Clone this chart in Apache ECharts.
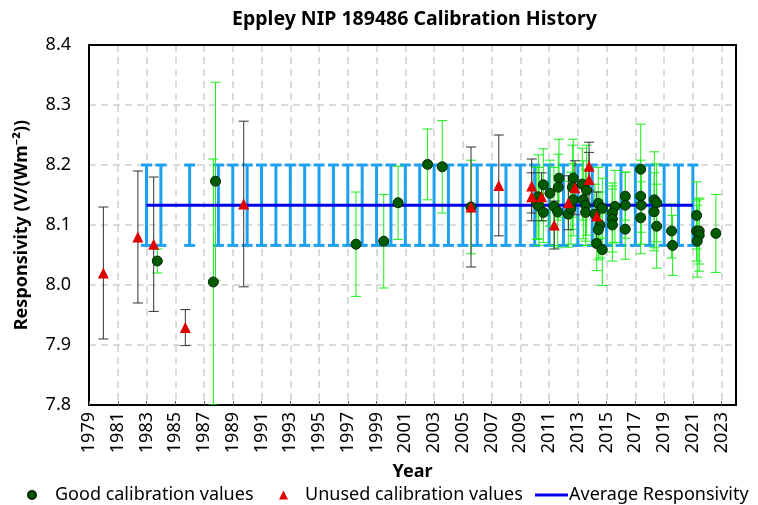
<!DOCTYPE html>
<html>
<head>
<meta charset="utf-8">
<script src="https://cdn.jsdelivr.net/npm/echarts@6/dist/echarts.min.js"></script>
<style>
  html, body { margin: 0; padding: 0; background: #fff; }
  #main { width: 758px; height: 505px; }
</style>
</head>
<body>
<div id="main"></div>
<script>
// 良好的校准值 [年, 响应度, 误差]
var goodYears = [1983.75, 1987.65, 1987.8, 1997.57, 1999.5, 2000.5, 2002.55, 2003.57, 2005.57,
  2010.6, 2010.25, 2010.14, 2010.3, 2010.6, 2011.06, 2011.34, 2011.6, 2011.69, 2011.64,
  2012.34, 2012.52, 2012.68, 2012.62, 2012.68, 2013.31, 2013.61, 2013.38, 2013.54, 2013.54,
  2014.42, 2014.7, 2014.19, 2014.54, 2014.42, 2014.31, 2014.7, 2015.58, 2015.4, 2015.4, 2015.4,
  2016.3, 2016.3, 2016.3, 2017.37, 2017.37, 2017.41, 2017.37, 2018.32, 2018.48, 2018.3, 2018.48,
  2019.52, 2019.59, 2021.26, 2021.26, 2021.44, 2021.44, 2021.3, 2022.6];
var goodValues = [8.040, 8.005, 8.173, 8.068, 8.073, 8.137, 8.201, 8.197, 8.130,
  8.167, 8.147, 8.136, 8.131, 8.121, 8.153, 8.131, 8.122, 8.178, 8.163,
  8.118, 8.128, 8.178, 8.163, 8.142, 8.168, 8.158, 8.142, 8.133, 8.121,
  8.136, 8.128, 8.118, 8.100, 8.092, 8.069, 8.059, 8.131, 8.120, 8.110, 8.100,
  8.148, 8.133, 8.093, 8.193, 8.148, 8.133, 8.112, 8.142, 8.137, 8.122, 8.098,
  8.090, 8.066, 8.116, 8.090, 8.090, 8.083, 8.073, 8.086];
var goodErrors = [0.020, 0.205, 0.165, 0.087, 0.078, 0.061, 0.059, 0.077, 0.078,
  0.060, 0.070, 0.060, 0.065, 0.050, 0.055, 0.065, 0.060, 0.065, 0.055,
  0.055, 0.060, 0.065, 0.070, 0.060, 0.060, 0.075, 0.065, 0.060, 0.055,
  0.060, 0.050, 0.050, 0.055, 0.050, 0.045, 0.060, 0.060, 0.050, 0.055, 0.060,
  0.040, 0.055, 0.050, 0.075, 0.060, 0.065, 0.060, 0.080, 0.065, 0.065, 0.070,
  0.045, 0.050, 0.056, 0.050, 0.055, 0.060, 0.060, 0.065];

// 未使用的校准值
var unusedYears = [1980.0, 1982.4, 1983.5, 1985.7, 1989.76, 2005.57, 2007.5,
  2009.79, 2009.79, 2010.48, 2011.36, 2012.34, 2012.8, 2013.78, 2013.78, 2014.31];
var unusedValues = [8.020, 8.080, 8.068, 7.929, 8.135, 8.130, 8.166,
  8.165, 8.147, 8.147, 8.100, 8.137, 8.162, 8.198, 8.176, 8.115];
var unusedErrors = [0.110, 0.110, 0.112, 0.030, 0.138, 0.100, 0.084,
  0.045, 0.040, 0.040, 0.040, 0.045, 0.045, 0.040, 0.045, 0.040];

// 平均响应度
var avgYears = [1983, 1984, 1986, 1988, 1989, 1990, 1991, 1992, 1993, 1994, 1995, 1996,
  1997, 1998, 1999, 2000, 2001, 2002, 2003, 2004, 2005, 2006, 2007, 2008, 2009, 2010,
  2011, 2012, 2013, 2014, 2015, 2016, 2017, 2018, 2019, 2020, 2021];
var avgValue = 8.133;
var avgError = 0.067;

var FONT = 'Noto Sans';

function zip3(xs, ys, es) {
  var out = [];
  for (var i = 0; i < xs.length; i++) {
    out.push([xs[i], ys[i], es[i]]);
  }
  return out;
}

var goodData = zip3(goodYears, goodValues, goodErrors);
var unusedData = zip3(unusedYears, unusedValues, unusedErrors);
var avgData = [];
for (var i = 0; i < avgYears.length; i++) {
  avgData.push([avgYears[i], avgValue, avgError]);
}

//误差棒
function errorBar(color, width, capHalf) {
  return function (params, api) {
    var x = api.value(0), v = api.value(1), e = api.value(2);
    var hi = api.coord([x, v + e]);
    var lo = api.coord([x, v - e]);
    var style = { stroke: color, lineWidth: width };
    return {
      type: 'group',
      children: [
        { type: 'line', shape: { x1: hi[0], y1: hi[1], x2: lo[0], y2: lo[1] }, style: style },
        { type: 'line', shape: { x1: hi[0] - capHalf, y1: hi[1], x2: hi[0] + capHalf, y2: hi[1] }, style: style },
        { type: 'line', shape: { x1: lo[0] - capHalf, y1: lo[1], x2: lo[0] + capHalf, y2: lo[1] }, style: style },
      ],
    };
  };
}

var myChart = echarts.init(document.getElementById('main'));

var legendText = { fontFamily: FONT, fontSize: 18, color: '#000' };
var gridLine = { show: true, lineStyle: { color: '#d0d0d0', type: [7, 5], width: 1.5 } };

var option = {
  animation: false,
  textStyle: { fontFamily: FONT },
  title: {
    text: 'Eppley NIP 189486 Calibration History',
    left: 227,
    top: 4,
    textStyle: { fontFamily: FONT, fontSize: 19.5, fontWeight: 'bold', color: '#000' },
  },
  legend: [
    {
      data: ['Good calibration values'],
      left: 27,
      top: 486,
      padding: 0,
      itemWidth: 8,
      itemHeight: 8,
      textStyle: Object.assign({ padding: [0, 0, 0, 14] }, legendText),
    },
    {
      data: ['Unused calibration values'],
      left: 279,
      top: 486,
      padding: 0,
      itemWidth: 9,
      itemHeight: 9,
      textStyle: Object.assign({ padding: [0, 0, 0, 12] }, legendText),
    },
    {
      data: ['Average Responsivity'],
      left: 535,
      top: 486,
      padding: 0,
      icon: 'rect',
      itemWidth: 33,
      itemHeight: 3,
      textStyle: Object.assign({ padding: [0, 0, 0, -4] }, legendText),
    },
  ],
  grid: {
    left: 89,
    right: 22,
    top: 45,
    bottom: 100,
  },
  xAxis: [
    {
      type: 'value',
      min: 1979,
      max: 2024,
      interval: 2,
      name: 'Year',
      nameLocation: 'middle',
      nameGap: 58,
      nameTextStyle: { fontFamily: FONT, fontSize: 18, fontWeight: 'bold', color: '#000' },
      axisLine: { lineStyle: { color: '#000', width: 2 } },
      axisTick: { show: true, inside: true, length: 4, lineStyle: { color: '#666' } },
      axisLabel: {
        rotate: 90,
        margin: 7,
        fontSize: 18,
        color: '#000',
        showMaxLabel: false,
        formatter: function (v) { return String(v); },
      },
      splitLine: gridLine,
    },
    {
      // 上边框
      type: 'value',
      position: 'top',
      min: 1979,
      max: 2024,
      axisLine: { show: true, onZero: false, lineStyle: { color: '#000', width: 2 } },
      axisTick: { show: false },
      axisLabel: { show: false },
      splitLine: { show: false },
    },
  ],
  yAxis: [
    {
      type: 'value',
      min: 7.8,
      max: 8.4,
      interval: 0.1,
      name: 'Responsivity (V/(Wm⁻²))',
      nameLocation: 'middle',
      nameRotate: 90,
      nameGap: 58,
      nameTextStyle: { fontFamily: FONT, fontSize: 18, fontWeight: 'bold', color: '#000' },
      axisLine: { show: true, lineStyle: { color: '#000', width: 2 } },
      axisTick: { show: false },
      axisLabel: {
        margin: 18,
        fontSize: 18,
        color: '#000',
        formatter: function (v) { return v.toFixed(1); },
      },
      splitLine: gridLine,
    },
    {
      // 右边框
      type: 'value',
      position: 'right',
      min: 7.8,
      max: 8.4,
      axisLine: { show: true, onZero: false, lineStyle: { color: '#000', width: 2 } },
      axisTick: { show: false },
      axisLabel: { show: false },
      splitLine: { show: false },
    },
  ],
  series: [
    {
      name: 'avgBars',
      type: 'custom',
      clip: true,
      z: 1,
      renderItem: errorBar('#1ea0f0', 3, 5.5),
      data: avgData,
      silent: true,
    },
    {
      name: 'goodBars',
      type: 'custom',
      clip: true,
      z: 3,
      renderItem: errorBar('#1aee1a', 1, 5),
      data: goodData,
      silent: true,
    },
    {
      name: 'unusedBars',
      type: 'custom',
      clip: true,
      z: 4,
      renderItem: errorBar('#333333', 1, 5),
      data: unusedData,
      silent: true,
    },
    {
      name: 'Average Responsivity',
      type: 'line',
      z: 5,
      symbol: 'none',
      data: avgData.map(function (d) { return [d[0], d[1]]; }),
      lineStyle: { color: '#0000ee', width: 3 },
      itemStyle: { color: '#0000ee' },
    },
    {
      name: 'Good calibration values',
      type: 'scatter',
      z: 6,
      symbol: 'circle',
      symbolSize: 10,
      data: goodData.map(function (d) { return [d[0], d[1]]; }),
      itemStyle: { color: '#005a00', borderColor: '#002400', borderWidth: 1, opacity: 1 },
    },
    {
      name: 'Unused calibration values',
      type: 'scatter',
      z: 7,
      symbol: 'triangle',
      symbolSize: 11,
      data: unusedData.map(function (d) { return [d[0], d[1]]; }),
      itemStyle: { color: '#e00000', opacity: 1 },
    },
  ],
};
myChart.setOption(option);
</script>
</body>
</html>
